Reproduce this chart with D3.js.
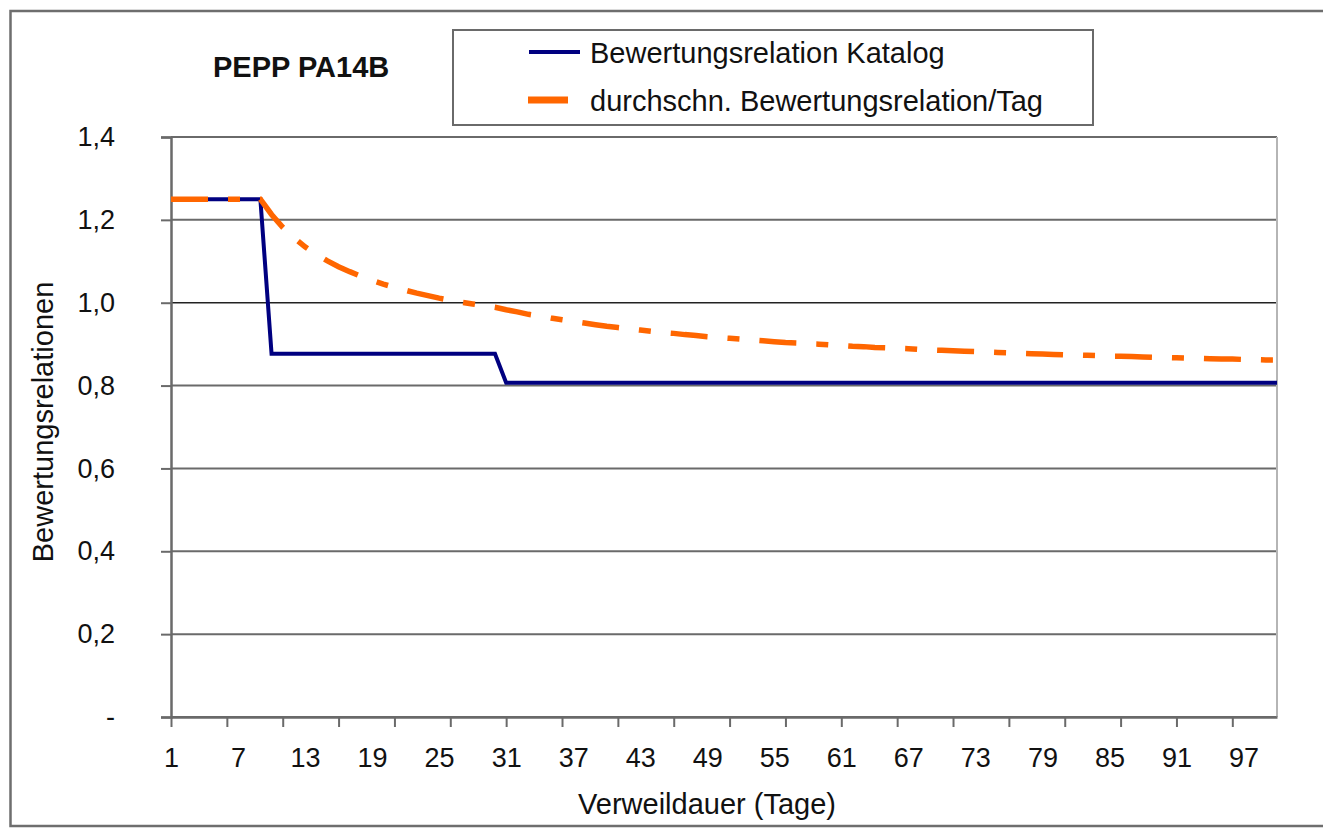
<!DOCTYPE html>
<html>
<head>
<meta charset="utf-8">
<script src="https://cdn.jsdelivr.net/npm/d3@7"></script>
<style>
  body { margin: 0; background: #fff; }
  svg { font-family: "Liberation Sans", Arial, sans-serif; }
</style>
</head>
<body>
<div id="chart"></div>
<script>
// days (Verweildauer)
var days = [
  1, 2, 3, 4, 5, 6, 7, 8, 9, 10,
  11, 12, 13, 14, 15, 16, 17, 18, 19, 20,
  21, 22, 23, 24, 25, 26, 27, 28, 29, 30,
  31, 32, 33, 34, 35, 36, 37, 38, 39, 40,
  41, 42, 43, 44, 45, 46, 47, 48, 49, 50,
  51, 52, 53, 54, 55, 56, 57, 58, 59, 60,
  61, 62, 63, 64, 65, 66, 67, 68, 69, 70,
  71, 72, 73, 74, 75, 76, 77, 78, 79, 80,
  81, 82, 83, 84, 85, 86, 87, 88, 89, 90,
  91, 92, 93, 94, 95, 96, 97, 98, 99, 100
];

// Bewertungsrelation Katalog
var katalog = [
  1.25, 1.25, 1.25, 1.25, 1.25, 1.25, 1.25, 1.25, 1.25, 0.877,
  0.877, 0.877, 0.877, 0.877, 0.877, 0.877, 0.877, 0.877, 0.877, 0.877,
  0.877, 0.877, 0.877, 0.877, 0.877, 0.877, 0.877, 0.877, 0.877, 0.877,
  0.807, 0.807, 0.807, 0.807, 0.807, 0.807, 0.807, 0.807, 0.807, 0.807,
  0.807, 0.807, 0.807, 0.807, 0.807, 0.807, 0.807, 0.807, 0.807, 0.807,
  0.807, 0.807, 0.807, 0.807, 0.807, 0.807, 0.807, 0.807, 0.807, 0.807,
  0.807, 0.807, 0.807, 0.807, 0.807, 0.807, 0.807, 0.807, 0.807, 0.807,
  0.807, 0.807, 0.807, 0.807, 0.807, 0.807, 0.807, 0.807, 0.807, 0.807,
  0.807, 0.807, 0.807, 0.807, 0.807, 0.807, 0.807, 0.807, 0.807, 0.807,
  0.807, 0.807, 0.807, 0.807, 0.807, 0.807, 0.807, 0.807, 0.807, 0.807
];

// durchschn. Bewertungsrelation/Tag
var durchschnitt = [
  1.25, 1.25, 1.25, 1.25, 1.25, 1.25, 1.25, 1.25, 1.25, 1.213,
  1.182, 1.157, 1.135, 1.117, 1.101, 1.087, 1.075, 1.064, 1.054, 1.045,
  1.037, 1.030, 1.023, 1.017, 1.011, 1.006, 1.001, 0.997, 0.993, 0.989,
  0.983, 0.978, 0.972, 0.968, 0.963, 0.959, 0.955, 0.951, 0.947, 0.943,
  0.940, 0.937, 0.934, 0.931, 0.928, 0.926, 0.923, 0.921, 0.918, 0.916,
  0.914, 0.912, 0.910, 0.908, 0.906, 0.904, 0.903, 0.901, 0.900, 0.898,
  0.897, 0.895, 0.894, 0.892, 0.891, 0.890, 0.889, 0.887, 0.886, 0.885,
  0.884, 0.883, 0.882, 0.881, 0.880, 0.879, 0.878, 0.877, 0.876, 0.875,
  0.874, 0.874, 0.873, 0.872, 0.871, 0.871, 0.870, 0.869, 0.868, 0.868,
  0.867, 0.866, 0.866, 0.865, 0.864, 0.864, 0.863, 0.863, 0.862, 0.862
];

var yTicks = [0, 0.2, 0.4, 0.6, 0.8, 1.0, 1.2, 1.4];
var xTickMarks = [1, 6, 11, 16, 21, 26, 31, 36, 41, 46, 51, 56, 61, 66, 71, 76, 81, 86, 91, 96];
var xLabels = [1, 7, 13, 19, 25, 31, 37, 43, 49, 55, 61, 67, 73, 79, 85, 91, 97];
var seriesNames = ['Bewertungsrelation Katalog', 'durchschn. Bewertungsrelation/Tag'];

var width = 1323, height = 829;
var plot = {left: 171, right: 1277, top: 137, bottom: 717};

var svg = d3.select('#chart').append('svg')
  .attr('width', width)
  .attr('height', height);

svg.append('rect')
  .attr('width', width).attr('height', height)
  .attr('fill', '#fff');

// outer frame
svg.append('rect')
  .attr('x', 10.5).attr('y', 11)
  .attr('width', 1330).attr('height', 815)
  .attr('fill', 'none')
  .attr('stroke', '#6e6e6e')
  .attr('stroke-width', 2.5);

var x = d3.scaleLinear().domain([1, 100]).range([plot.left, plot.right]);
var y = d3.scaleLinear().domain([0, 1.4]).range([plot.bottom, plot.top]);

// gridlines
svg.append('g')
  .selectAll('line')
  .data(yTicks)
  .enter()
  .append('line')
  .attr('x1', plot.left).attr('x2', plot.right)
  .attr('y1', function(d) { return y(d); })
  .attr('y2', function(d) { return y(d); })
  .attr('stroke', function(d) { return d === 1.0 ? '#222' : '#6a6a6a'; })
  .attr('stroke-width', function(d) { return d === 1.0 ? 1.5 : 2; });

// right border
svg.append('line')
  .attr('x1', plot.right).attr('x2', plot.right)
  .attr('y1', plot.top).attr('y2', plot.bottom)
  .attr('stroke', '#b5b5b5')
  .attr('stroke-width', 2);

// y axis
var yAxis = svg.append('g')
  .attr('transform', 'translate(' + plot.left + ',0)')
  .call(d3.axisLeft(y)
    .tickValues(yTicks)
    .tickSize(10)
    .tickPadding(46)
    .tickFormat(function(d) { return d === 0 ? '-' : d3.format('.1f')(d).replace('.', ','); }));
yAxis.select('.domain').attr('stroke', '#6a6a6a').attr('stroke-width', 2.5);
yAxis.selectAll('.tick line').attr('stroke', '#6a6a6a').attr('stroke-width', 2);
yAxis.selectAll('.tick text')
  .attr('fill', '#111')
  .style('font-size', '27px')
  .style('font-family', '"Liberation Sans", Arial, sans-serif');

// x axis tick marks
var xAxis = svg.append('g')
  .attr('transform', 'translate(0,' + plot.bottom + ')')
  .call(d3.axisBottom(x)
    .tickValues(xTickMarks)
    .tickSize(10)
    .tickSizeOuter(0)
    .tickFormat(''));
xAxis.select('.domain').attr('stroke', '#6a6a6a').attr('stroke-width', 2.5);
xAxis.selectAll('.tick line').attr('stroke', '#6a6a6a').attr('stroke-width', 2);

// x axis labels
var xLab = svg.append('g')
  .attr('transform', 'translate(0,' + plot.bottom + ')')
  .call(d3.axisBottom(x)
    .tickValues(xLabels)
    .tickSize(0)
    .tickPadding(31)
    .tickFormat(d3.format('d')));
xLab.select('.domain').remove();
xLab.selectAll('.tick text')
  .attr('fill', '#111')
  .style('font-size', '27px')
  .style('font-family', '"Liberation Sans", Arial, sans-serif');

// lines
var line = d3.line()
  .x(function(d, i) { return x(days[i]); })
  .y(function(d) { return y(d); });

svg.append('path')
  .datum(katalog)
  .attr('d', line)
  .attr('fill', 'none')
  .attr('stroke', '#000080')
  .attr('stroke-width', 4);

svg.append('path')
  .datum(durchschnitt)
  .attr('d', line)
  .attr('fill', 'none')
  .attr('stroke', '#ff6600')
  .attr('stroke-width', 5.5)
  .attr('stroke-dasharray', '37 20 12 20');

// title
svg.append('text')
  .attr('x', 213).attr('y', 77)
  .style('font-size', '29px')
  .style('font-weight', 'bold')
  .attr('fill', '#111')
  .text('PEPP PA14B');

// axis titles
svg.append('text')
  .attr('x', 707).attr('y', 814)
  .attr('text-anchor', 'middle')
  .style('font-size', '29px')
  .attr('fill', '#111')
  .text('Verweildauer (Tage)');

svg.append('text')
  .attr('transform', 'translate(53,422) rotate(-90)')
  .attr('text-anchor', 'middle')
  .style('font-size', '29px')
  .attr('fill', '#111')
  .text('Bewertungsrelationen');

// legend
var legend = svg.append('g');
legend.append('rect')
  .attr('x', 453).attr('y', 30)
  .attr('width', 640).attr('height', 95)
  .attr('fill', '#fff')
  .attr('stroke', '#6a6a6a')
  .attr('stroke-width', 2);

legend.append('line')
  .attr('x1', 529).attr('x2', 580)
  .attr('y1', 52).attr('y2', 52)
  .attr('stroke', '#000080')
  .attr('stroke-width', 4);
legend.append('line')
  .attr('x1', 528).attr('x2', 568)
  .attr('y1', 100).attr('y2', 100)
  .attr('stroke', '#ff6600')
  .attr('stroke-width', 7);

legend.selectAll('text.leg')
  .data(seriesNames)
  .enter()
  .append('text')
  .attr('class', 'leg')
  .attr('x', 590)
  .attr('y', function(d, i) { return 63 + i * 48; })
  .style('font-size', '29px')
  .attr('fill', '#111')
  .text(function(d) { return d; });
</script>
</body>
</html>
